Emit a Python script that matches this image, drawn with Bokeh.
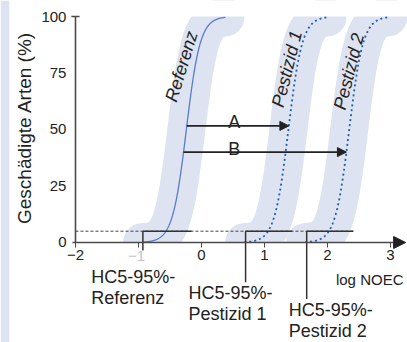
import numpy as np
from bokeh.plotting import figure
from bokeh.models import LinearAxis, FixedTicker, Arrow, NormalHead, ColumnDataSource
from bokeh.core.properties import value
from bokeh.embed import file_html
from bokeh.resources import INLINE

# ---------------- data ----------------
curve_names = ["Referenz", "Pestizid 1", "Pestizid 2"]
ssd_mid = [-0.24, 1.38, 2.345]      # log NOEC at 50 % affected species
ssd_spread = [0.11, 0.11, 0.11]     # logistic scale
hc5_low = [-0.93, 0.70, 1.67]       # HC5 lower 95 % bound
hc5_high = [-0.16, 1.44, 2.41]      # HC5 upper 95 % bound
hc_level = 5
hc_labels = ["HC5-95%-\nReferenz", "HC5-95%-\nPestizid 1", "HC5-95%-\nPestizid 2"]
arrow_names = ["A", "B"]
arrow_levels = [51.6, 40.0]
arrow_targets = [1, 2]
x_ticks = [-2, -1, 0, 1, 2, 3]
y_ticks = [0, 25, 50, 75, 100]
x_title = "log NOEC"
y_title = "Geschädigte Arten (%)"

# ---------------- layout / style ----------------
W, H = 407, 342
X0, X1 = -3.190, 3.270
Y0, Y1 = -44.25, 107.08
FONT = value("Liberation Sans")
BAND = "#dde3f0"
DARK = "#333333"
AXC = "#4a4a4a"

def inv(m, s, p):
    return m + s * np.log(p / (100.0 - p))

p = figure(width=W, height=H, x_range=(X0, X1), y_range=(Y0, Y1),
           x_axis_type=None, y_axis_type=None, toolbar_location=None,
           output_backend="svg", min_border=0)
p.outline_line_color = None
p.grid.visible = False

xs_list, ys_list = [], []
for m, s in zip(ssd_mid, ssd_spread):
    xs = np.linspace(m - 0.7, m + 0.62, 240)
    ys = 100.0 / (1.0 + np.exp(-(xs - m) / s))
    xs_list.append(xs)
    ys_list.append(ys)

# confidence bands as thick strokes
for xs, ys in zip(xs_list, ys_list):
    p.line(xs, ys, line_width=38, line_color=BAND, line_cap="round", line_join="round")

# clip bands to 0..100
p.quad(left=-1.9, right=X1, bottom=100, top=Y1, fill_color="white", line_color=None)
p.quad(left=-1.9, right=X1, bottom=Y0, top=0, fill_color="white", line_color=None)

# neighbouring panel strip at the left edge
p.quad(left=X0, right=X0 + 0.14, bottom=Y0, top=Y1, fill_color=BAND, line_color=None)

# dashed 5 % line
p.line([x_ticks[0], hc5_high[-1]], [hc_level, hc_level], line_color="#444444",
       line_width=1, line_dash="3 2")

# curves
p.line(xs_list[0], ys_list[0], line_color="#5a7ccc", line_width=1.3)
for xs, ys in zip(xs_list[1:], ys_list[1:]):
    p.line(xs, ys, line_color="#1f5fae", line_width=1.8, line_dash="2 3")

# HC5 markers
hc_bottom = [-3.5, -17.6, -25.0]
p.segment(x0=hc5_low, y0=[hc_level] * 3, x1=hc5_high, y1=[hc_level] * 3,
          line_color=DARK, line_width=1.5)
p.segment(x0=hc5_low, y0=[hc_level] * 3, x1=hc5_low, y1=hc_bottom,
          line_color=DARK, line_width=1.5)

# axes
xaxis = LinearAxis(fixed_location=0, ticker=FixedTicker(ticks=x_ticks),
                   bounds=(-2.05, 3.1),
                   major_label_overrides={-2: "\u22122", -1: ""})
xaxis.axis_line_color = AXC
xaxis.axis_line_width = 1.6
xaxis.major_tick_line_color = AXC
xaxis.major_tick_line_width = 1
xaxis.major_tick_in = 0
xaxis.major_tick_out = 5
xaxis.minor_tick_line_color = None
xaxis.major_label_standoff = 3
xaxis.major_label_text_font = "Liberation Sans"
xaxis.major_label_text_font_size = "15px"
xaxis.major_label_text_color = "#222222"
p.add_layout(xaxis, "below")

yaxis = LinearAxis(fixed_location=x_ticks[0], ticker=FixedTicker(ticks=y_ticks),
                   bounds=(0, 100))
yaxis.axis_line_color = AXC
yaxis.axis_line_width = 1.6
yaxis.major_tick_line_color = None
yaxis.major_tick_in = 0
yaxis.major_tick_out = 0
yaxis.minor_tick_line_color = None
yaxis.major_label_standoff = 9
yaxis.major_label_text_font = "Liberation Sans"
yaxis.major_label_text_font_size = "15px"
yaxis.major_label_text_color = "#222222"
p.add_layout(yaxis, "left")

# T-cap at the top of the y axis
p.segment(x0=[x_ticks[0] - 0.065], y0=[y_ticks[-1]], x1=[x_ticks[0] + 0.065], y1=[y_ticks[-1]],
          line_color=AXC, line_width=1.6)

# x axis arrow head
p.add_layout(Arrow(x_start=3.05, y_start=0, x_end=3.24, y_end=0, line_color=AXC,
                   line_width=1.6, end=NormalHead(size=12, fill_color="#222222",
                                                  line_color="#222222")))

# faded -1 label
p.text(x=[-1.03], y=[-3.6], text=["\u22121"], text_font=FONT, text_font_size="15px",
       text_color="#c4c4c4", text_align="center", text_baseline="top")

# A / B arrows
ax0, ax1, ay = [], [], []
for lev, t in zip(arrow_levels, arrow_targets):
    ax0.append(inv(ssd_mid[0], ssd_spread[0], lev))
    ax1.append(inv(ssd_mid[t], ssd_spread[t], lev))
    ay.append(lev)
arr_src = ColumnDataSource(dict(x0=ax0, x1=ax1, y=ay))
p.add_layout(Arrow(source=arr_src, x_start="x0", y_start="y", x_end="x1", y_end="y",
                   line_color="#222222", line_width=1.6,
                   end=NormalHead(size=9, fill_color="#222222", line_color="#222222")))
p.text(x=[0.52, 0.52], y=[ay[0] + 1.5, ay[1] + 1.5], text=arrow_names, text_font=FONT,
       text_font_size="18px", text_color="#222222", text_align="center",
       text_baseline="alphabetic")

# curve labels
p.text(x=[-0.317, 1.357, 2.341], y=[77.9, 76.8, 75.7], text=curve_names,
       angle=[np.radians(73), np.radians(76), np.radians(76)], text_font=FONT,
       text_font_style="italic", text_font_size="18px", text_color="#222222",
       text_align="center", text_baseline="middle")

# HC labels
p.text(x=[-1.75, -0.206, 1.386], y=[-10.8, -18.1, -25.6], text=hc_labels, text_font=FONT,
       text_font_size="18px", text_color="#222222", text_align="left",
       text_baseline="top", text_line_height=1.05)

# axis titles
p.text(x=[3.206], y=[-16.2], text=[x_title], text_font=FONT, text_font_size="15px",
       text_color="#222222", text_align="right", text_baseline="middle")
p.text(x=[-2.81], y=[50.7], text=[y_title], angle=[np.pi / 2], text_font=FONT,
       text_font_size="19px", text_color="#222222", text_align="center",
       text_baseline="middle")

open("out.html", "w").write(file_html(p, INLINE))
